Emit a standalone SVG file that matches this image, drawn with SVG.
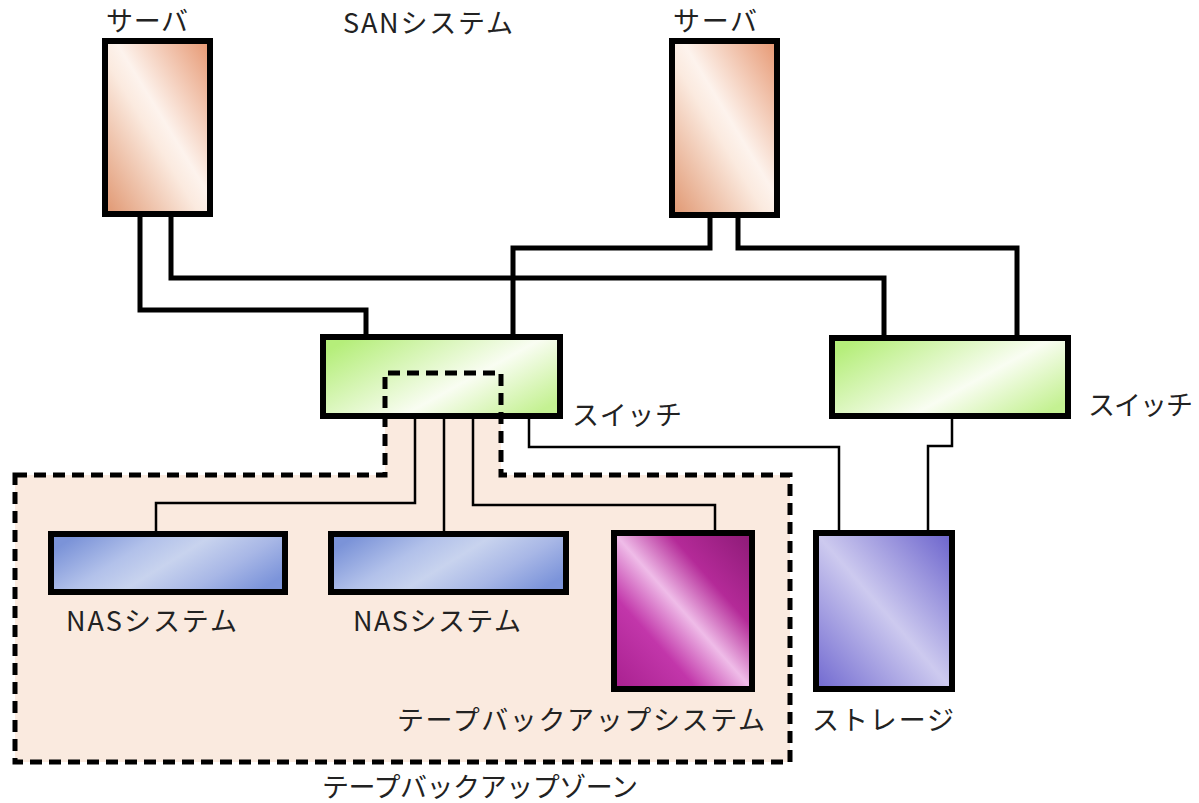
<svg xmlns="http://www.w3.org/2000/svg" width="1199" height="803" viewBox="0 0 1199 803">
<defs>
<linearGradient id="gServer" x1="1" y1="0" x2="0" y2="1">
<stop offset="0" stop-color="#e69670"/>
<stop offset="0.45" stop-color="#fdf3ed"/>
<stop offset="0.55" stop-color="#fbeadf"/>
<stop offset="1" stop-color="#e09670"/>
</linearGradient>
<linearGradient id="gSwitch" x1="0" y1="0.2" x2="1" y2="0.8">
<stop offset="0" stop-color="#b5ee7a"/>
<stop offset="0.6" stop-color="#f9fdf2"/>
<stop offset="1" stop-color="#c4f192"/>
</linearGradient>
<linearGradient id="gNas" x1="0" y1="0.3" x2="1" y2="0.7">
<stop offset="0" stop-color="#7b93d8"/>
<stop offset="0.3" stop-color="#b2c1ea"/>
<stop offset="0.5" stop-color="#c8d3ee"/>
<stop offset="0.75" stop-color="#a8b7e6"/>
<stop offset="1" stop-color="#7c94da"/>
</linearGradient>
<linearGradient id="gTape" x1="1" y1="0" x2="0" y2="1">
<stop offset="0" stop-color="#8c1a76"/>
<stop offset="0.3" stop-color="#b42a98"/>
<stop offset="0.5" stop-color="#efbce8"/>
<stop offset="0.7" stop-color="#c236aa"/>
<stop offset="1" stop-color="#a8208f"/>
</linearGradient>
<linearGradient id="gStorage" x1="1" y1="0" x2="0" y2="1">
<stop offset="0" stop-color="#6a62cc"/>
<stop offset="0.5" stop-color="#cdcaef"/>
<stop offset="1" stop-color="#7068d0"/>
</linearGradient>
</defs>
<style>
.box{stroke:#000;stroke-width:6;stroke-linejoin:miter}
.thick{fill:none;stroke:#000;stroke-width:5;stroke-linejoin:miter}
.thin{fill:none;stroke:#000;stroke-width:2.5;stroke-linejoin:miter}
.dash{fill:none;stroke:#000;stroke-width:5;stroke-dasharray:12 7}
text{font-family:"Noto Sans CJK JP","Noto Sans",sans-serif;font-size:27px;fill:#222}
</style>
<rect width="1199" height="803" fill="#fff"/>
<g id="zone-fill">
<path d="M15,475 H385 V373 H501 V475 H790 V762 H15 Z" fill="#faeadf"/>
</g>
<g id="connectors">
<path class="thick" d="M140,216 V310 H366 V337"/>
<path class="thick" d="M171,216 V278 H884 V337"/>
<path class="thick" d="M710,216 V248 H513 V337"/>
<path class="thick" d="M738,216 V248 H1017 V337"/>
<path class="thin" d="M415,418 V503 H156 V533"/>
<path class="thin" d="M444,418 V533"/>
<path class="thin" d="M473,418 V505 H715 V533"/>
<path class="thin" d="M529,418 V447 H839 V533"/>
<path class="thin" d="M952,418 V446 H928 V533"/>
</g>
<g id="server1">
<rect class="box" x="105" y="41" width="105" height="173" fill="url(#gServer)"/>
<text x="106" y="31" textLength="82" lengthAdjust="spacing">サーバ</text>
</g>
<g id="server2">
<rect class="box" x="672" y="41" width="105" height="174" fill="url(#gServer)"/>
<text x="673" y="31" textLength="84" lengthAdjust="spacing">サーバ</text>
</g>
<g id="title">
<text x="343" y="33" textLength="170" lengthAdjust="spacing">SANシステム</text>
</g>
<g id="switch1">
<rect class="box" x="323" y="337" width="237" height="79" fill="url(#gSwitch)"/>
<text x="572" y="425" textLength="110" lengthAdjust="spacing">スイッチ</text>
</g>
<g id="switch2">
<rect class="box" x="832" y="338" width="236" height="78" fill="url(#gSwitch)"/>
<text x="1088" y="415" textLength="105" lengthAdjust="spacing">スイッチ</text>
</g>
<g id="zone-outline">
<path class="dash" d="M15,475 H385 V373 H501 V475 H790 V762 H15 Z"/>
<text x="322" y="797" textLength="316" lengthAdjust="spacing">テープバックアップゾーン</text>
</g>
<g id="nas1">
<rect class="box" x="51" y="534" width="234" height="58" fill="url(#gNas)"/>
<text x="66" y="631" textLength="171" lengthAdjust="spacing">NASシステム</text>
</g>
<g id="nas2">
<rect class="box" x="331" y="534" width="235" height="58" fill="url(#gNas)"/>
<text x="353" y="631" textLength="168" lengthAdjust="spacing">NASシステム</text>
</g>
<g id="tape">
<rect class="box" x="614" y="533" width="138" height="156" fill="url(#gTape)"/>
<text x="397" y="730" textLength="368" lengthAdjust="spacing">テープバックアップシステム</text>
</g>
<g id="storage">
<rect class="box" x="816" y="533" width="136" height="156" fill="url(#gStorage)"/>
<text x="812" y="730" textLength="142" lengthAdjust="spacing">ストレージ</text>
</g>
</svg>
